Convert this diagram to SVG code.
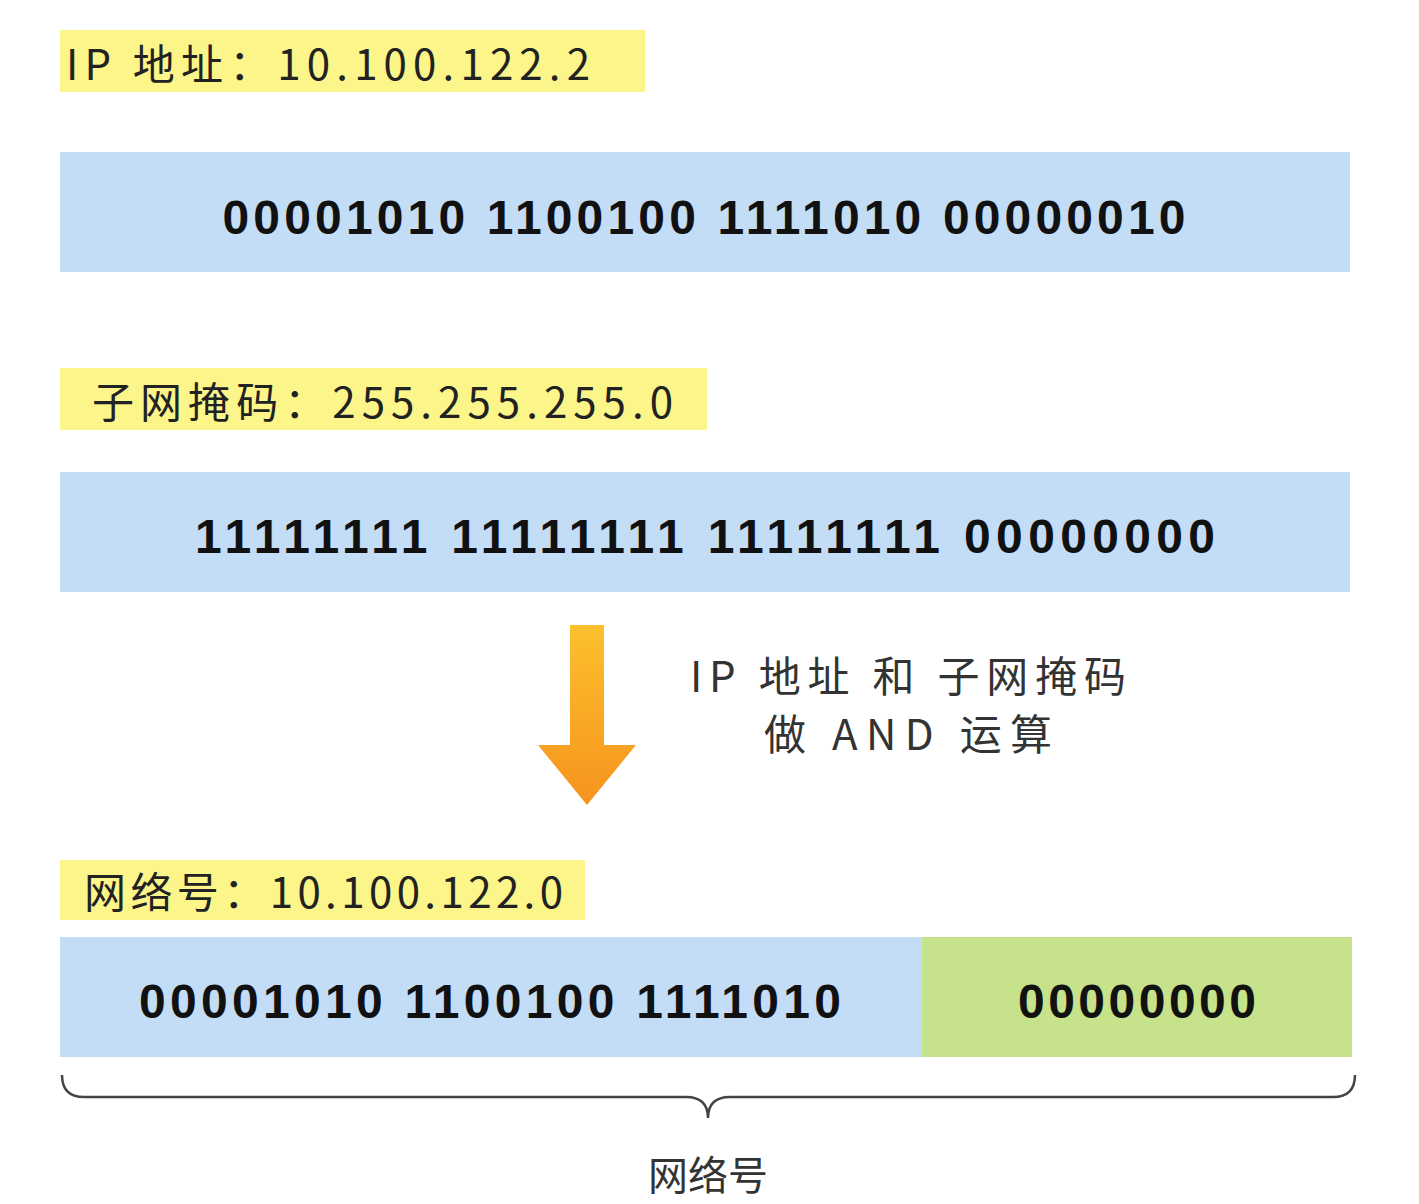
<svg xmlns="http://www.w3.org/2000/svg" width="1419" height="1204" viewBox="0 0 1419 1204">
<style>
.hl{fill:#fbf58a}
.bar{fill:#c3ddf6}
.lbl{font-family:"Noto Sans CJK SC","Liberation Sans",sans-serif;font-size:42px;fill:#222}
.bits{font-family:"Liberation Sans","Noto Sans CJK SC",sans-serif;font-size:48px;font-weight:bold;fill:#111;text-anchor:middle}
.note{font-family:"Noto Sans CJK SC","Liberation Sans",sans-serif;font-size:42px;fill:#333;text-anchor:middle}
</style>
<defs>
<linearGradient id="og" x1="0" y1="0" x2="0" y2="1">
<stop offset="0" stop-color="#fbc02d"/><stop offset="1" stop-color="#f7931e"/>
</linearGradient>
</defs>
<rect width="1419" height="1204" fill="#fff"/>
<g id="ip-label"><rect class="hl" x="60" y="30" width="585" height="62"/><text class="lbl" x="66" y="80" textLength="524" lengthAdjust="spacing">IP 地址：10.100.122.2</text></g>
<g id="ip-bits"><rect class="bar" x="60" y="152" width="1290" height="120"/><text class="bits" x="704" y="234" textLength="963" lengthAdjust="spacing">00001010 1100100 1111010 00000010</text></g>
<g id="mask-label"><rect class="hl" x="60" y="368" width="647" height="62"/><text class="lbl" x="92" y="418" textLength="581" lengthAdjust="spacing">子网掩码：255.255.255.0</text></g>
<g id="mask-bits"><rect class="bar" x="60" y="472" width="1290" height="120"/><text class="bits" x="705" y="553" textLength="1020" lengthAdjust="spacing">11111111 11111111 11111111 00000000</text></g>
<g id="connectors">
<path d="M570 625 H604 V745 H636 L587 805 L538 745 H570 Z" fill="url(#og)"/>
<path d="M62 1075 Q62 1097 84 1097 H686 Q708 1097 708 1118 Q708 1097 730 1097 H1333 Q1355 1097 1355 1075" fill="none" stroke="#444" stroke-width="2.5"/>
</g>
<g id="op-note"><text class="note" x="908" y="692" textLength="436" lengthAdjust="spacing">IP 地址 和 子网掩码</text><text class="note" x="908" y="750" textLength="288" lengthAdjust="spacing">做 AND 运算</text></g>
<g id="net-label"><rect class="hl" x="60" y="860" width="525" height="60"/><text class="lbl" x="84" y="908" textLength="479" lengthAdjust="spacing">网络号：10.100.122.0</text></g>
<g id="net-bits"><rect class="bar" x="60" y="937" width="862" height="120"/><rect x="922" y="937" width="430" height="120" fill="#c6e28a"/>
<text class="bits" x="490" y="1018" textLength="702" lengthAdjust="spacing">00001010 1100100 1111010</text><text class="bits" x="1137" y="1018" textLength="238" lengthAdjust="spacing">00000000</text></g>
<g id="net-caption"><text class="note" x="708" y="1190" style="font-size:40px">网络号</text></g>
</svg>
